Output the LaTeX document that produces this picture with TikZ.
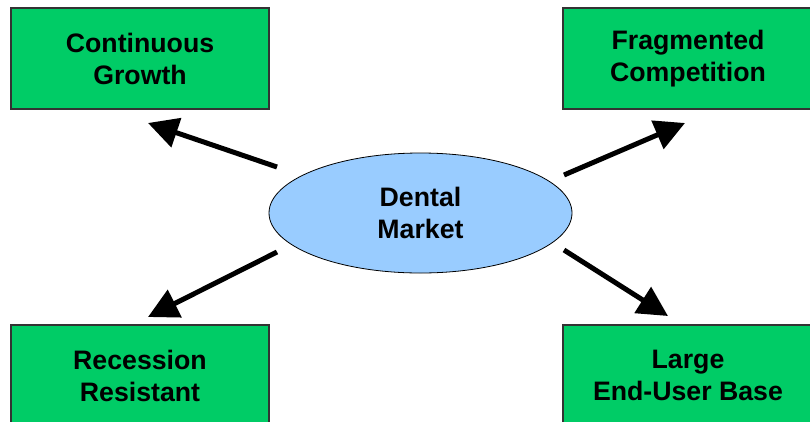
\documentclass[tikz,border=0pt]{standalone}
\usepackage{fontspec}
\setmainfont{Liberation Sans}
\usetikzlibrary{arrows.meta,shapes.geometric}
\definecolor{boxgreen}{RGB}{0,204,102}
\definecolor{ellblue}{RGB}{153,204,255}
\definecolor{boxborder}{RGB}{51,51,51}
\begin{document}
\begin{tikzpicture}[x=1pt,y=-1pt,
  greenbox/.style={draw=boxborder,line width=1.3pt,fill=boxgreen,rectangle,inner sep=0pt,
    align=center,font=\fontsize{26.7}{32}\selectfont\bfseries},
  bigarrow/.style={line width=5pt,-{Triangle[length=30pt,width=30pt]}}]
\useasboundingbox (0,0) rectangle (810,421);
\node[greenbox,minimum width=258pt,minimum height=101pt] (cg) at (140,58.5) {Continuous\\Growth};
\node[greenbox,minimum width=250pt,minimum height=101pt] (fc) at (688,58.5) {Fragmented\\Competition};
\node[greenbox,minimum width=258pt,minimum height=101pt] (rr) at (140,375.5) {Recession\\Resistant};
\node[greenbox,minimum width=250pt,minimum height=101pt] (lb) at (688,375.5) {Large\\End-User Base};
\node[ellipse,draw=black,line width=0.8pt,fill=ellblue,minimum width=303pt,minimum height=120pt,inner sep=0pt,
  align=center,font=\fontsize{26.7}{32}\selectfont\bfseries] (dm) at (420.5,213) {Dental\\Market};
\coordinate (t1) at (277,167);
\coordinate (h1) at (148,123);
\coordinate (t2) at (564,175);
\coordinate (h2) at (685,123);
\coordinate (t3) at (277,252);
\coordinate (h3) at (148,317);
\coordinate (t4) at (564,250);
\coordinate (h4) at (668,316);
\draw[bigarrow] (t1) -- (h1);
\draw[bigarrow] (t2) -- (h2);
\draw[bigarrow] (t3) -- (h3);
\draw[bigarrow] (t4) -- (h4);
\end{tikzpicture}
\end{document}
